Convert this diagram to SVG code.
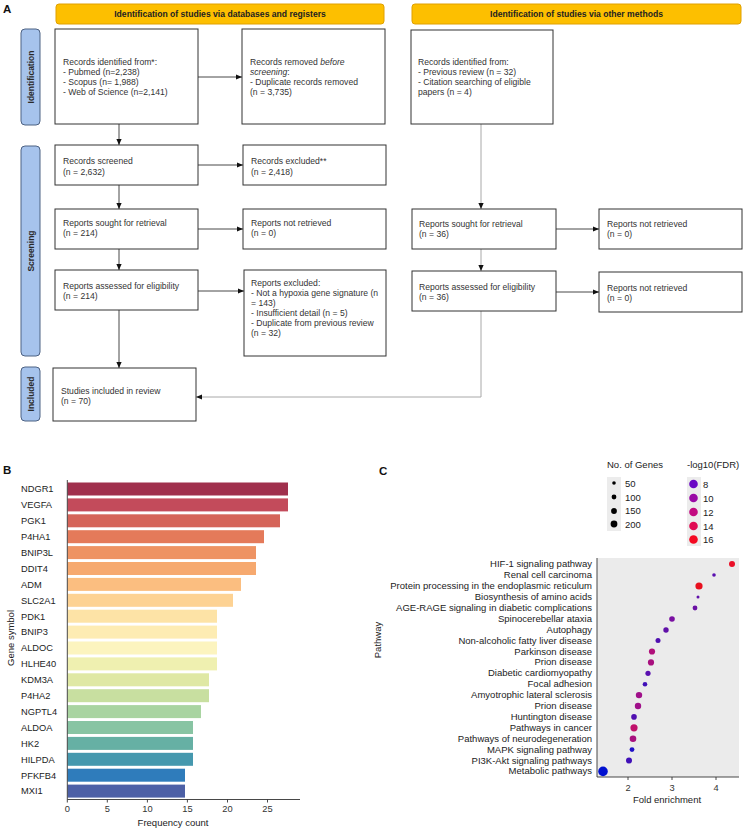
<svg xmlns="http://www.w3.org/2000/svg" width="747" height="830" viewBox="0 0 747 830">
<defs>
<style>
text{font-family:"Liberation Sans",Arial,sans-serif;fill:#222}
.pl{font-size:11.5px;font-weight:bold;fill:#111}
.bx{fill:#fff;stroke:#333;stroke-width:1}
.bt{font-size:8.6px;fill:#333}
.ban{fill:#fdbf00;stroke:#e0a000;stroke-width:1}
.bant{font-size:8.6px;font-weight:bold;fill:#222;text-anchor:middle}
.side{fill:#a6c3ec;stroke:#4d6283;stroke-width:1}
.sidet{font-size:8.5px;font-weight:bold;fill:#2a2a2a;text-anchor:middle}
.cn{fill:none;stroke:#333;stroke-width:0.9}
.cng{fill:none;stroke:#a8a8a8;stroke-width:1}
.gl{font-size:9.3px;fill:#222}
.tk{font-size:9.3px;fill:#333;text-anchor:middle}
.ax{stroke:#333;stroke-width:0.9;fill:none}
.pw{font-size:9.5px;fill:#222;text-anchor:end}
.lg{font-size:9.5px;fill:#222}
</style>
<marker id="ah" viewBox="0 0 6 6" refX="6" refY="3" markerWidth="6" markerHeight="6" markerUnits="userSpaceOnUse" orient="auto">
<path d="M0,0.4 L6,3 L0,5.6 Z" fill="#111"/>
</marker>
</defs>
<rect width="747" height="830" fill="#fff"/>

<!-- Panel A -->
<text class="pl" x="3" y="13">A</text>
<g id="banner1"><rect class="ban" x="56" y="4" width="328" height="20" rx="3"/><text class="bant" x="220" y="17">Identification of studies via databases and registers</text></g>
<g id="banner2"><rect class="ban" x="412" y="4" width="329" height="20" rx="3"/><text class="bant" x="576.5" y="17">Identification of studies via other methods</text></g>

<g id="side-identification"><rect class="side" x="21" y="29" width="19" height="96" rx="4"/><text class="sidet" transform="translate(34,77) rotate(-90)">Identification</text></g>
<g id="side-screening"><rect class="side" x="21" y="146" width="19" height="210" rx="4"/><text class="sidet" transform="translate(34,251) rotate(-90)">Screening</text></g>
<g id="side-included"><rect class="side" x="21" y="367" width="19" height="54" rx="4"/><text class="sidet" transform="translate(34,394) rotate(-90)">Included</text></g>

<g id="connectors">
<path class="cn" d="M198,77 H242" marker-end="url(#ah)"/>
<path class="cn" d="M119,124 V145" marker-end="url(#ah)"/>
<path class="cn" d="M198,165 H243" marker-end="url(#ah)"/>
<path class="cn" d="M119,185 V209" marker-end="url(#ah)"/>
<path class="cn" d="M198,229 H243" marker-end="url(#ah)"/>
<path class="cn" d="M119,249 V270" marker-end="url(#ah)"/>
<path class="cn" d="M198,291 H244" marker-end="url(#ah)"/>
<path class="cn" d="M119,310 V368" marker-end="url(#ah)"/>
<path class="cng" d="M481,124 V209" marker-end="url(#ah)"/>
<path class="cn" d="M556,229 H599" marker-end="url(#ah)"/>
<path class="cng" d="M481,249 V271" marker-end="url(#ah)"/>
<path class="cn" d="M556,292 H599" marker-end="url(#ah)"/>
<path class="cng" d="M481,311 V397 H196" marker-end="url(#ah)"/>
</g>

<g id="records-identified"><rect class="bx" x="55" y="29" width="143" height="95"/>
<text class="bt" x="63" y="65">Records identified from*:</text>
<text class="bt" x="63" y="75">- Pubmed (n=2,238)</text>
<text class="bt" x="63" y="85">- Scopus (n= 1,988)</text>
<text class="bt" x="63" y="95">- Web of Science (n=2,141)</text></g>

<g id="records-removed"><rect class="bx" x="242" y="29" width="143" height="95"/>
<text class="bt" x="250" y="65">Records removed <tspan font-style="italic">before</tspan></text>
<text class="bt" x="250" y="75"><tspan font-style="italic">screening</tspan>:</text>
<text class="bt" x="250" y="85">- Duplicate records removed</text>
<text class="bt" x="250" y="95">(n = 3,735)</text></g>

<g id="records-screened"><rect class="bx" x="55" y="145" width="143" height="40"/>
<text class="bt" x="63" y="164">Records screened</text>
<text class="bt" x="63" y="175">(n = 2,632)</text></g>

<g id="records-excluded"><rect class="bx" x="243" y="145" width="143" height="40"/>
<text class="bt" x="251" y="164">Records excluded**</text>
<text class="bt" x="251" y="175">(n = 2,418)</text></g>

<g id="reports-sought-db"><rect class="bx" x="55" y="209" width="143" height="40"/>
<text class="bt" x="63" y="226">Reports sought for retrieval</text>
<text class="bt" x="63" y="236">(n = 214)</text></g>

<g id="reports-not-retrieved-db"><rect class="bx" x="243" y="209" width="143" height="40"/>
<text class="bt" x="251" y="226">Reports not retrieved</text>
<text class="bt" x="251" y="236">(n = 0)</text></g>

<g id="reports-assessed-db"><rect class="bx" x="55" y="270" width="143" height="40"/>
<text class="bt" x="63" y="289">Reports assessed for eligibility</text>
<text class="bt" x="63" y="299">(n = 214)</text></g>

<g id="reports-excluded"><rect class="bx" x="244" y="270" width="142" height="86"/>
<text class="bt" x="251" y="286">Reports excluded:</text>
<text class="bt" x="251" y="296">- Not a hypoxia gene signature (n</text>
<text class="bt" x="251" y="306">= 143)</text>
<text class="bt" x="251" y="316">- Insufficient detail (n = 5)</text>
<text class="bt" x="251" y="326">- Duplicate from previous review</text>
<text class="bt" x="251" y="336">(n = 32)</text></g>

<g id="studies-included"><rect class="bx" x="53" y="368" width="143" height="53"/>
<text class="bt" x="61" y="394">Studies included in review</text>
<text class="bt" x="61" y="404">(n = 70)</text></g>

<g id="records-identified-other"><rect class="bx" x="411" y="30" width="142" height="94"/>
<text class="bt" x="418" y="65">Records identified from:</text>
<text class="bt" x="418" y="75">- Previous review (n = 32)</text>
<text class="bt" x="418" y="85">- Citation searching of eligible</text>
<text class="bt" x="418" y="95">papers (n = 4)</text></g>

<g id="reports-sought-other"><rect class="bx" x="412" y="209" width="144" height="40"/>
<text class="bt" x="419" y="227">Reports sought for retrieval</text>
<text class="bt" x="419" y="237">(n = 36)</text></g>

<g id="reports-not-retrieved-other1"><rect class="bx" x="599" y="209" width="143" height="40"/>
<text class="bt" x="607" y="227">Reports not retrieved</text>
<text class="bt" x="607" y="237">(n = 0)</text></g>

<g id="reports-assessed-other"><rect class="bx" x="412" y="271" width="144" height="40"/>
<text class="bt" x="419" y="290">Reports assessed for eligibility</text>
<text class="bt" x="419" y="300">(n = 36)</text></g>

<g id="reports-not-retrieved-other2"><rect class="bx" x="599" y="272" width="143" height="40"/>
<text class="bt" x="607" y="291">Reports not retrieved</text>
<text class="bt" x="607" y="301">(n = 0)</text></g>

<!-- Panel B -->
<text class="pl" x="3" y="474">B</text>
<g id="bar-chart">
<g id="bars">
<rect x="67.5" y="482.5" width="220.5" height="13" fill="#a0304d"/>
<rect x="67.5" y="498.4" width="220.5" height="13" fill="#c34b5b"/>
<rect x="67.5" y="514.3" width="212.5" height="13" fill="#d56459"/>
<rect x="67.5" y="530.2" width="196.5" height="13" fill="#e47a5a"/>
<rect x="67.5" y="546.1" width="188.5" height="13" fill="#ee9363"/>
<rect x="67.5" y="562" width="188.5" height="13" fill="#f6a96f"/>
<rect x="67.5" y="577.9" width="173.5" height="13" fill="#fbbe80"/>
<rect x="67.5" y="593.8" width="165.5" height="13" fill="#fdd293"/>
<rect x="67.5" y="609.7" width="149.5" height="13" fill="#fde3a6"/>
<rect x="67.5" y="625.6" width="149.5" height="13" fill="#fdecb3"/>
<rect x="67.5" y="641.5" width="149.5" height="13" fill="#fcf4bf"/>
<rect x="67.5" y="657.4" width="149.5" height="13" fill="#eff0b0"/>
<rect x="67.5" y="673.3" width="141.5" height="13" fill="#dfe8a4"/>
<rect x="67.5" y="689.2" width="141.5" height="13" fill="#c8dfa0"/>
<rect x="67.5" y="705.1" width="133.5" height="13" fill="#a9d4a1"/>
<rect x="67.5" y="721" width="125.5" height="13" fill="#88c4a3"/>
<rect x="67.5" y="736.9" width="125.5" height="13" fill="#66b0a4"/>
<rect x="67.5" y="752.8" width="125.5" height="13" fill="#4598ae"/>
<rect x="67.5" y="768.7" width="117.5" height="13" fill="#2f7cbb"/>
<rect x="67.5" y="784.6" width="117.5" height="13" fill="#4d60a6"/>
</g>
<g id="gene-labels">
<text class="gl" x="21" y="492.3">NDGR1</text>
<text class="gl" x="21" y="508.2">VEGFA</text>
<text class="gl" x="21" y="524.1">PGK1</text>
<text class="gl" x="21" y="540">P4HA1</text>
<text class="gl" x="21" y="555.9">BNIP3L</text>
<text class="gl" x="21" y="571.8">DDIT4</text>
<text class="gl" x="21" y="587.7">ADM</text>
<text class="gl" x="21" y="603.6">SLC2A1</text>
<text class="gl" x="21" y="619.5">PDK1</text>
<text class="gl" x="21" y="635.4">BNIP3</text>
<text class="gl" x="21" y="651.3">ALDOC</text>
<text class="gl" x="21" y="667.2">HLHE40</text>
<text class="gl" x="21" y="683.1">KDM3A</text>
<text class="gl" x="21" y="699">P4HA2</text>
<text class="gl" x="21" y="714.9">NGPTL4</text>
<text class="gl" x="21" y="730.8">ALDOA</text>
<text class="gl" x="21" y="746.7">HK2</text>
<text class="gl" x="21" y="762.6">HILPDA</text>
<text class="gl" x="21" y="778.5">PFKFB4</text>
<text class="gl" x="21" y="794.4">MXI1</text>
</g>
<path class="ax" d="M67.3,480 V799.5 H300"/>
<path class="ax" d="M67.3,799.5 v3 M107.3,799.5 v3 M147.4,799.5 v3 M187.4,799.5 v3 M227.5,799.5 v3 M267.5,799.5 v3"/>
<text class="tk" x="67.3" y="812">0</text>
<text class="tk" x="107.3" y="812">5</text>
<text class="tk" x="147.4" y="812">10</text>
<text class="tk" x="187.4" y="812">15</text>
<text class="tk" x="227.5" y="812">20</text>
<text class="tk" x="267.5" y="812">25</text>
<text class="tk" x="173" y="826" style="font-size:9.5px;fill:#222">Frequency count</text>
<text class="tk" transform="translate(14,638) rotate(-90)" style="font-size:9.5px;fill:#222">Gene symbol</text>
</g>

<!-- Panel C -->
<text class="pl" x="379" y="475">C</text>
<g id="legend-size">
<text class="lg" x="607" y="468">No. of Genes</text>
<rect x="607" y="477" width="14" height="54" fill="#ececec"/>
<circle cx="614" cy="483" r="1.8" fill="#000"/>
<circle cx="614" cy="497" r="2.4" fill="#000"/>
<circle cx="614" cy="511" r="2.9" fill="#000"/>
<circle cx="614" cy="524" r="3.4" fill="#000"/>
<text class="lg" x="625" y="486.5">50</text>
<text class="lg" x="625" y="500.5">100</text>
<text class="lg" x="625" y="514">150</text>
<text class="lg" x="625" y="527.5">200</text>
</g>
<g id="legend-color">
<text class="lg" x="687" y="468">-log10(FDR)</text>
<rect x="687" y="477" width="14" height="69" fill="#ececec"/>
<circle cx="693.5" cy="484" r="4.3" fill="#6a08c4"/>
<circle cx="693.5" cy="498" r="4.3" fill="#9a0aa6"/>
<circle cx="693.5" cy="512" r="4.3" fill="#c20a80"/>
<circle cx="693.5" cy="526" r="4.3" fill="#e00a52"/>
<circle cx="693.5" cy="539.5" r="4.3" fill="#f40a22"/>
<text class="lg" x="703" y="487.5">8</text>
<text class="lg" x="703" y="501.5">10</text>
<text class="lg" x="703" y="515.5">12</text>
<text class="lg" x="703" y="529.5">14</text>
<text class="lg" x="703" y="543">16</text>
</g>
<g id="dot-plot">
<rect x="597" y="558" width="142" height="219" fill="#ebebeb"/>
<path class="ax" d="M597,558 V777 H739"/>
<path class="ax" d="M628,777 v3 M672,777 v3 M716,777 v3"/>
<text class="tk" x="628" y="791">2</text>
<text class="tk" x="672" y="791">3</text>
<text class="tk" x="716" y="791">4</text>
<text class="tk" x="667" y="803" style="font-size:9.5px;fill:#222">Fold enrichment</text>
<text class="tk" transform="translate(381,640) rotate(-90)" style="font-size:9.5px;fill:#222">Pathway</text>
<g id="pathway-labels">
<text class="pw" x="592" y="567.3">HIF-1 signaling pathway</text>
<text class="pw" x="592" y="578.2">Renal cell carcinoma</text>
<text class="pw" x="592" y="589.1">Protein processing in the endoplasmic reticulum</text>
<text class="pw" x="592" y="600">Biosynthesis of amino acids</text>
<text class="pw" x="592" y="610.9">AGE-RAGE signaling in diabetic complications</text>
<text class="pw" x="592" y="621.8">Spinocerebellar ataxia</text>
<text class="pw" x="592" y="632.7">Autophagy</text>
<text class="pw" x="592" y="643.6">Non-alcoholic fatty liver disease</text>
<text class="pw" x="592" y="654.5">Parkinson disease</text>
<text class="pw" x="592" y="665.4">Prion disease</text>
<text class="pw" x="592" y="676.3">Diabetic cardiomyopathy</text>
<text class="pw" x="592" y="687.2">Focal adhesion</text>
<text class="pw" x="592" y="698.1">Amyotrophic lateral sclerosis</text>
<text class="pw" x="592" y="709">Prion disease</text>
<text class="pw" x="592" y="719.9">Huntington disease</text>
<text class="pw" x="592" y="730.8">Pathways in cancer</text>
<text class="pw" x="592" y="741.7">Pathways of neurodegeneration</text>
<text class="pw" x="592" y="752.6">MAPK signaling pathway</text>
<text class="pw" x="592" y="763.5">PI3K-Akt signaling pathways</text>
<text class="pw" x="592" y="774.4">Metabolic pathways</text>
</g>
<g id="dots">
<circle cx="732" cy="564" r="3" fill="#ea1028"/>
<circle cx="714" cy="575" r="1.8" fill="#5a10b0"/>
<circle cx="699" cy="586" r="3.6" fill="#e8101e"/>
<circle cx="698" cy="597" r="1.5" fill="#6010aa"/>
<circle cx="695" cy="608" r="2.4" fill="#6a10a4"/>
<circle cx="672" cy="619" r="2.8" fill="#7a10a2"/>
<circle cx="666" cy="630" r="2.7" fill="#6010a8"/>
<circle cx="658" cy="640.6" r="2.5" fill="#5010b0"/>
<circle cx="652" cy="651.5" r="3.1" fill="#b0107a"/>
<circle cx="651" cy="662.4" r="3.1" fill="#a8107e"/>
<circle cx="648" cy="673.3" r="2.6" fill="#5a10b0"/>
<circle cx="645" cy="684.2" r="2.3" fill="#4010b8"/>
<circle cx="639" cy="695.1" r="3.2" fill="#a0108a"/>
<circle cx="638" cy="706" r="3.2" fill="#a0108a"/>
<circle cx="634" cy="716.9" r="2.8" fill="#5010b0"/>
<circle cx="634" cy="727.8" r="3.6" fill="#c0106a"/>
<circle cx="633" cy="738.7" r="3.3" fill="#a8107e"/>
<circle cx="632" cy="749.6" r="2.4" fill="#2010c8"/>
<circle cx="629" cy="760.5" r="3" fill="#4010b8"/>
<circle cx="603" cy="771.4" r="4.8" fill="#0010d0"/>
</g>
</g>
</svg>
